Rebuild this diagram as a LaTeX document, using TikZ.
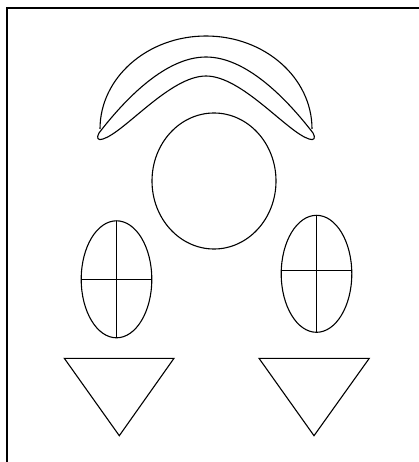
\documentclass[tikz,border=0pt]{standalone}
\begin{document}
\begin{tikzpicture}[x=1pt, y=-1pt, line width=1.1pt]
    \useasboundingbox (0,0) rectangle (419,462);

    % Cornice (solo lato superiore e sinistro)
    \draw (419,8) -- (7,8) -- (7,462);

    % Arco esterno
    \draw (100,129) arc[start angle=180, end angle=360, x radius=106, y radius=93];

    % Forma a boomerang sotto l'arco
    \draw (99,133) .. controls (126,98) and (166,57) .. (206,57)
        .. controls (246,57) and (286,98) .. (313,133)
        .. controls (316,138) and (314,141) .. (309,139)
        .. controls (287,132) and (242,76) .. (206,76)
        .. controls (170,76) and (125,132) .. (103,139)
        .. controls (98,141) and (96,138) .. (99,133) -- cycle;

    % Cerchio centrale
    \draw (214,181) ellipse [x radius=62, y radius=68];

    % Ellisse sinistra con croce
    \draw (116.5,279.3) ellipse [x radius=35.3, y radius=58.5];
    \draw (116.5,220.8) -- (116.5,337.8);
    \draw (81.2,279.3) -- (151.8,279.3);

    % Ellisse destra con croce (linea orizzontale un po' piu' in alto)
    \draw (316.5,273.8) ellipse [x radius=35.3, y radius=58.5];
    \draw (316.5,215.3) -- (316.5,332.3);
    \draw (281.3,270.3) -- (351.7,270.3);

    % Triangoli rovesciati
    \draw (64.3,358.3) -- (174,358.3) -- (119.3,435.7) -- cycle;
    \draw (259,358.3) -- (369.3,358.3) -- (314,435.7) -- cycle;
\end{tikzpicture}
\end{document}
